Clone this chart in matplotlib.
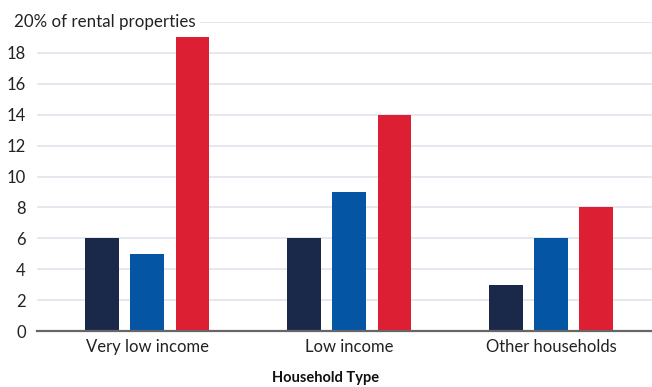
import matplotlib.pyplot as plt
import numpy as np

plt.rcParams['font.family'] = ['Lato', 'DejaVu Sans']

categories = ["Very low income", "Low income", "Other households"]
series_a = [6, 6, 3]
series_b = [5, 9, 6]
series_c = [19, 14, 8]
colors = ["#1a2849", "#0456a5", "#dc1f33"]
y_ticks = [0, 2, 4, 6, 8, 10, 12, 14, 16, 18]

fig = plt.figure(figsize=(6.52, 3.87), dpi=100)
ax = fig.add_axes([37 / 652, 1 - 331 / 387, 1 - 37 / 652, (331 - 22) / 387])

x = np.arange(len(categories))
w = 0.168
off = 0.225
for i, (vals, c) in enumerate(zip([series_a, series_b, series_c], colors)):
    ax.bar(x + (i - 1) * off, vals, width=w, color=c, zorder=3)

ax.set_ylim(0, 20)
ax.set_xlim(-0.545, 2.5)
ax.set_yticks(y_ticks + [20])
ax.set_yticklabels([str(t) for t in y_ticks] + [""])
ax.yaxis.grid(True, color="#e1e3ec", linewidth=1.2, zorder=0)
ax.tick_params(axis="y", length=0, labelsize=12, pad=8, labelcolor="#222222")
ax.set_xticks(x)
ax.set_xticklabels(categories)
ax.tick_params(axis="x", length=0, labelsize=12, pad=6, labelcolor="#222222")
for s in ["top", "right", "left"]:
    ax.spines[s].set_visible(False)
ax.spines["bottom"].set_color("#666666")
ax.spines["bottom"].set_linewidth(1.6)
ax.spines["bottom"].set_zorder(4)

# top label covering the 20 gridline start
ax.text(-0.545 - 23 / 202, 20, "20% of rental properties", fontsize=12.2,
        color="#222222", va="center", ha="left",
        bbox=dict(facecolor="white", edgecolor="none", pad=3), zorder=5, clip_on=False)

fig.text(0.5, 1 - 378 / 387, "Household Type", ha="center", va="center",
         fontsize=10.5, fontweight="bold", color="#111111")

fig.savefig("out.png", dpi=100)
